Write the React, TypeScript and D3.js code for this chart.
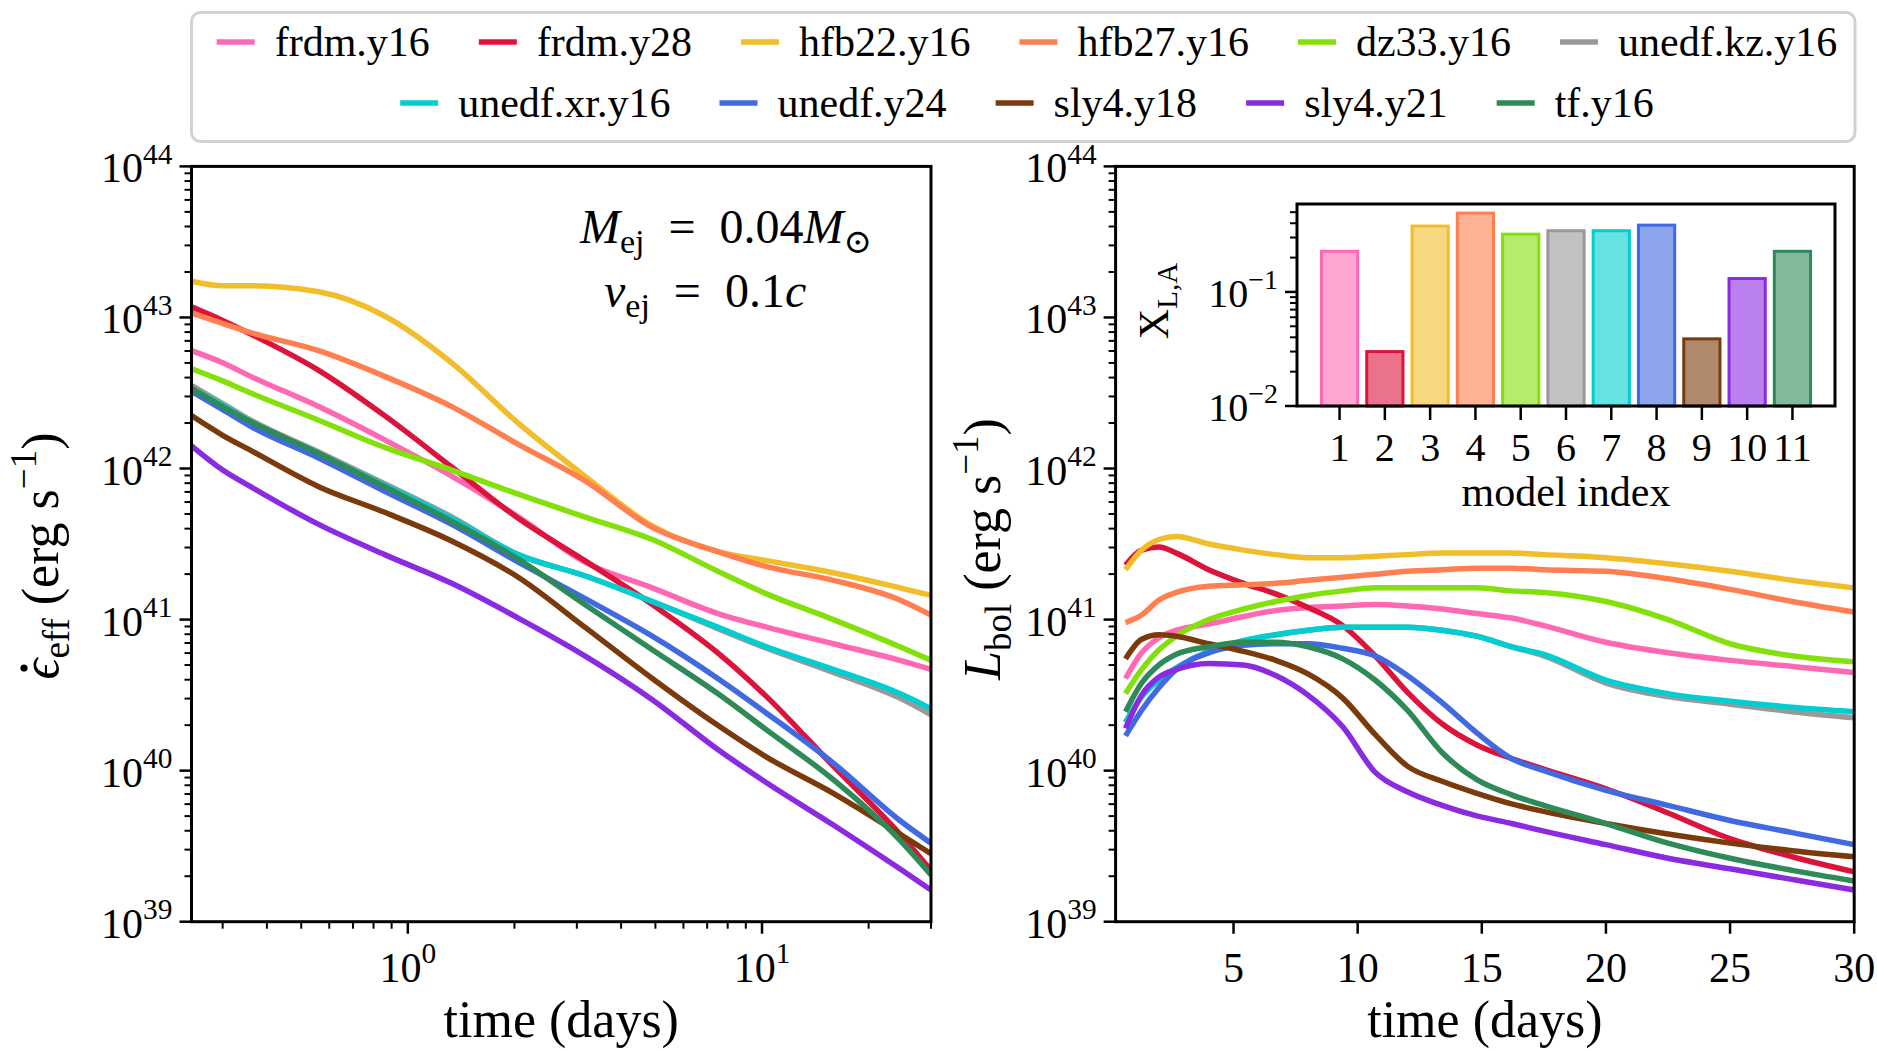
import React, { useMemo } from "react";
import * as d3 from "d3";

// model names, order = legend order = bar index 1..11
const models = [
  "frdm.y16", "frdm.y28", "hfb22.y16", "hfb27.y16", "dz33.y16", "unedf.kz.y16",
  "unedf.xr.y16", "unedf.y24", "sly4.y18", "sly4.y21", "tf.y16",
];
const colors = [
  "#ff69b4", "#dc143c", "#f2bd2a", "#ff7f50", "#84e00a", "#999999",
  "#00ced1", "#4169e1", "#7b3a0c", "#8a2be2", "#2e8b57",
];

// left panel: effective heating rate, log10(erg/s) vs time (days)
const tEff = [0.245, 0.3, 0.36, 0.56, 0.86, 1.33, 2.05, 3.16, 4.9, 7.5, 10.3, 15.9, 24.5, 30];
const effFrdmY16 = [42.78, 42.7, 42.61, 42.41, 42.19, 41.95, 41.68, 41.38, 41.21, 41.04, 40.95, 40.84, 40.73, 40.67];
const effFrdmY28 = [43.07, 42.98, 42.89, 42.65, 42.35, 42.01, 41.67, 41.39, 41.1, 40.78, 40.49, 40.03, 39.58, 39.34];
const effHfb22 = [43.24, 43.21, 43.21, 43.17, 43.01, 42.7, 42.3, 41.95, 41.62, 41.45, 41.39, 41.31, 41.21, 41.16];
const effHfb27 = [43.03, 42.96, 42.9, 42.78, 42.61, 42.41, 42.16, 41.92, 41.61, 41.45, 41.35, 41.26, 41.13, 41.03];
const effDz33 = [42.66, 42.58, 42.5, 42.32, 42.14, 41.99, 41.83, 41.68, 41.53, 41.32, 41.17, 41.0, 40.82, 40.73];
const effUnedfKz = [42.55, 42.43, 42.32, 42.11, 41.9, 41.68, 41.43, 41.29, 41.12, 40.94, 40.81, 40.65, 40.48, 40.37];
const effUnedfXr = [42.53, 42.42, 42.31, 42.1, 41.89, 41.67, 41.43, 41.29, 41.12, 40.95, 40.82, 40.67, 40.51, 40.41];
const effUnedfY24 = [42.51, 42.39, 42.28, 42.07, 41.85, 41.63, 41.38, 41.14, 40.89, 40.61, 40.38, 40.05, 39.67, 39.52];
const effSly4Y18 = [42.35, 42.22, 42.12, 41.88, 41.71, 41.52, 41.28, 40.95, 40.61, 40.3, 40.09, 39.85, 39.58, 39.45];
const effSly4Y21 = [42.15, 41.99, 41.88, 41.63, 41.43, 41.24, 41.01, 40.76, 40.47, 40.14, 39.92, 39.64, 39.35, 39.21];
const effTfY16 = [42.53, 42.41, 42.31, 42.1, 41.88, 41.65, 41.4, 41.1, 40.8, 40.51, 40.27, 39.94, 39.54, 39.31];

// right panel: bolometric luminosity, log10(erg/s) vs time (days)
const tBol = [0.65, 1.3, 2, 2.7, 4, 5.4, 6.7, 8, 9.4, 10.7, 12, 13.4, 14.8, 16.2, 17.5, 20, 22.5, 25, 27.5, 30];
const bolFrdmY16 = [40.61, 40.78, 40.88, 40.93, 40.97, 41.02, 41.06, 41.08, 41.09, 41.1, 41.09, 41.07, 41.04, 41.01, 40.96, 40.85, 40.78, 40.73, 40.69, 40.65];
const bolFrdmY28 = [41.36, 41.46, 41.48, 41.44, 41.33, 41.24, 41.17, 41.08, 40.96, 40.76, 40.52, 40.31, 40.17, 40.08, 40.01, 39.88, 39.72, 39.55, 39.43, 39.33];
const bolHfb22 = [41.33, 41.46, 41.53, 41.55, 41.5, 41.46, 41.43, 41.41, 41.41, 41.42, 41.43, 41.44, 41.44, 41.44, 41.43, 41.41, 41.37, 41.32, 41.26, 41.21];
const bolHfb27 = [40.98, 41.03, 41.13, 41.18, 41.22, 41.23, 41.24, 41.26, 41.28, 41.3, 41.32, 41.33, 41.34, 41.34, 41.33, 41.32, 41.27, 41.2, 41.12, 41.05];
const bolDz33 = [40.51, 40.67, 40.8, 40.89, 41.0, 41.07, 41.12, 41.16, 41.19, 41.21, 41.21, 41.21, 41.21, 41.19, 41.18, 41.12, 41.0, 40.84, 40.76, 40.72];
const bolUnedfKz = [40.32, 40.49, 40.6, 40.68, 40.79, 40.86, 40.9, 40.93, 40.95, 40.95, 40.95, 40.93, 40.89, 40.82, 40.76, 40.58, 40.49, 40.44, 40.39, 40.35];
const bolUnedfXr = [40.32, 40.49, 40.6, 40.68, 40.79, 40.86, 40.9, 40.93, 40.95, 40.95, 40.95, 40.93, 40.89, 40.82, 40.77, 40.6, 40.51, 40.46, 40.42, 40.39];
const bolUnedfY24 = [40.23, 40.4, 40.55, 40.67, 40.78, 40.83, 40.84, 40.84, 40.81, 40.76, 40.63, 40.45, 40.25, 40.08, 40.0, 39.87, 39.77, 39.67, 39.59, 39.51];
const bolSly4Y18 = [40.74, 40.87, 40.9, 40.89, 40.84, 40.79, 40.73, 40.64, 40.48, 40.24, 40.03, 39.93, 39.85, 39.78, 39.73, 39.65, 39.58, 39.52, 39.47, 39.43];
const bolSly4Y21 = [40.28, 40.5, 40.62, 40.67, 40.71, 40.7, 40.63, 40.5, 40.29, 39.99, 39.86, 39.77, 39.7, 39.65, 39.6, 39.51, 39.42, 39.35, 39.28, 39.21];
const bolTfY16 = [40.39, 40.58, 40.7, 40.77, 40.82, 40.85, 40.85, 40.82, 40.74, 40.6, 40.4, 40.12, 39.94, 39.84, 39.77, 39.65, 39.52, 39.42, 39.34, 39.27];

// inset: X_{L,A} per model index
const modelIndex = [1, 2, 3, 4, 5, 6, 7, 8, 9, 10, 11];
const xla = [0.227, 0.03, 0.378, 0.491, 0.321, 0.344, 0.344, 0.385, 0.0388, 0.131, 0.227];

const effSeries = [effFrdmY16, effFrdmY28, effHfb22, effHfb27, effDz33, effUnedfKz, effUnedfXr, effUnedfY24, effSly4Y18, effSly4Y21, effTfY16];
const bolSeries = [bolFrdmY16, bolFrdmY28, bolHfb22, bolHfb27, bolDz33, bolUnedfKz, bolUnedfXr, bolUnedfY24, bolSly4Y18, bolSly4Y21, bolTfY16];

const W = 1877;
const H = 1051;
const FONT = "'Liberation Serif', 'DejaVu Serif', serif";
const leftBox = { x0: 191.5, x1: 931, y0: 166.4, y1: 921.7 };
const rightBox = { x0: 1115.6, x1: 1854.2, y0: 166.4, y1: 921.7 };
const insetBox = { x0: 1297, x1: 1835, y0: 204, y1: 406 };

const MAJOR = 12;
const MINOR = 7;
const LW = 5.5;
const TICK_FS = 42;

let ctx: CanvasRenderingContext2D | null = null;
function textWidth(s: string, size: number, italic = false) {
  if (!ctx) ctx = document.createElement("canvas").getContext("2d");
  if (!ctx) return s.length * size * 0.5;
  ctx.font = `${italic ? "italic " : ""}${size}px ${FONT}`;
  return ctx.measureText(s).width;
}

const sup = (e: number) => (e < 0 ? "\u2212" + Math.abs(e) : String(e));

const Pow10 = ({ x, y, exp, anchor, size = TICK_FS }: any) => (
  <text x={x} y={y} textAnchor={anchor} fontSize={size} fontFamily={FONT}>
    10<tspan dy={-size * 0.45} fontSize={size * 0.7}>{sup(exp)}</tspan>
  </text>
);

const isDecade = (v: number) => Math.abs(Math.log10(v) - Math.round(Math.log10(v))) < 1e-6;

function LogYAxis({ scale, box, size = TICK_FS }: any) {
  const ticks: number[] = scale.ticks();
  return (
    <g>
      {ticks.map((v, i) => {
        const major = isDecade(v);
        const y = scale(v);
        return (
          <g key={i}>
            <line x1={box.x0 - (major ? MAJOR : MINOR)} x2={box.x0} y1={y} y2={y} stroke="#000" strokeWidth={major ? 2.5 : 2} />
            {major && <Pow10 x={box.x0 - MAJOR - 7} y={y + 16} exp={Math.round(Math.log10(v))} anchor="end" size={size} />}
          </g>
        );
      })}
    </g>
  );
}

// rotated y label: italic symbol with subscript, then " (erg s^-1)"
function YLabel({ x, y, sym, sub, dot }: any) {
  const fs = 52;
  const fss = 37;
  const wSym = textWidth(sym, fs, true);
  const total = wSym + textWidth(sub, fss) + textWidth(" (erg s", fs) + textWidth("\u22121", fss) + textWidth(")", fs);
  const start = -total / 2;
  return (
    <g transform={`translate(${x},${y}) rotate(-90)`}>
      <text x={start} y={0} fontSize={fs} fontFamily={FONT}>
        <tspan fontStyle="italic">{sym}</tspan>
        <tspan dy={11} fontSize={fss}>{sub}</tspan>
        <tspan dy={-11}> (erg s</tspan>
        <tspan dy={-22} fontSize={fss}>{"\u22121"}</tspan>
        <tspan dy={22}>)</tspan>
      </text>
      {dot && <circle cx={start + wSym * 0.55} cy={-34} r={3.6} fill="#000" />}
    </g>
  );
}

function EffPanel() {
  const x = d3.scaleLog().domain([0.245, 30]).range([leftBox.x0, leftBox.x1]);
  const y = d3.scaleLog().domain([1e39, 1e44]).range([leftBox.y1, leftBox.y0]);
  const line = d3
    .line<number>()
    .x((_, i) => x(tEff[i]))
    .y((d) => y(Math.pow(10, d)))
    .curve(d3.curveMonotoneX);
  const xt: number[] = x.ticks();
  const cx = (leftBox.x0 + leftBox.x1) / 2;
  const cy = (leftBox.y0 + leftBox.y1) / 2;
  return (
    <g>
      <defs>
        <clipPath id="clipL">
          <rect x={leftBox.x0} y={leftBox.y0} width={leftBox.x1 - leftBox.x0} height={leftBox.y1 - leftBox.y0} />
        </clipPath>
      </defs>
      <g clipPath="url(#clipL)">
        {effSeries.map((s, i) => (
          <path key={i} d={line(s) || ""} fill="none" stroke={colors[i]} strokeWidth={LW} strokeLinejoin="round" />
        ))}
      </g>
      <rect x={leftBox.x0} y={leftBox.y0} width={leftBox.x1 - leftBox.x0} height={leftBox.y1 - leftBox.y0} fill="none" stroke="#000" strokeWidth={3} />
      <LogYAxis scale={y} box={leftBox} />
      {xt.map((v, i) => {
        const major = isDecade(v);
        const px = x(v);
        return (
          <g key={i}>
            <line x1={px} x2={px} y1={leftBox.y1} y2={leftBox.y1 + (major ? MAJOR : MINOR)} stroke="#000" strokeWidth={major ? 2.5 : 2} />
            {major && <Pow10 x={px} y={leftBox.y1 + 60} exp={Math.round(Math.log10(v))} anchor="middle" />}
          </g>
        );
      })}
      <text x={cx} y={1037} textAnchor="middle" fontSize={52} fontFamily={FONT}>time (days)</text>
      <YLabel x={58} y={cy + 12} sym={"\u03F5"} sub="eff" dot />
      <text x={580} y={243} fontSize={48} fontFamily={FONT}>
        <tspan fontStyle="italic">M</tspan>
        <tspan dy={10} fontSize={34}>ej</tspan>
        <tspan dy={-10}>{"\u2002=\u20020.04"}</tspan>
        <tspan fontStyle="italic">M</tspan>
        <tspan dy={10} fontSize={34}>{"\u2299"}</tspan>
      </text>
      <text x={604} y={307} fontSize={48} fontFamily={FONT}>
        <tspan fontStyle="italic">v</tspan>
        <tspan dy={10} fontSize={34}>ej</tspan>
        <tspan dy={-10}>{"\u2002=\u20020.1"}</tspan>
        <tspan fontStyle="italic">c</tspan>
      </text>
    </g>
  );
}

function Inset() {
  const x = d3.scaleLinear().domain([0.06, 11.94]).range([insetBox.x0, insetBox.x1]);
  const y = d3.scaleLog().domain([0.01, 0.59]).range([insetBox.y1, insetBox.y0]);
  const yt: number[] = y.ticks();
  const bw = x(0.8) - x(0);
  return (
    <g>
      <rect x={insetBox.x0} y={insetBox.y0} width={insetBox.x1 - insetBox.x0} height={insetBox.y1 - insetBox.y0} fill="#fff" />
      {xla.map((v, i) => (
        <rect
          key={i}
          x={x(modelIndex[i]) - bw / 2}
          y={y(v)}
          width={bw}
          height={y(0.01) - y(v)}
          fill={colors[i]}
          fillOpacity={0.6}
          stroke={colors[i]}
          strokeWidth={3}
        />
      ))}
      <rect x={insetBox.x0} y={insetBox.y0} width={insetBox.x1 - insetBox.x0} height={insetBox.y1 - insetBox.y0} fill="none" stroke="#000" strokeWidth={3} />
      {yt.map((v, i) => {
        const major = isDecade(v);
        const py = y(v);
        return (
          <g key={i}>
            <line x1={insetBox.x0 - (major ? MAJOR : MINOR)} x2={insetBox.x0} y1={py} y2={py} stroke="#000" strokeWidth={major ? 2.5 : 2} />
            {major && <Pow10 x={insetBox.x0 - MAJOR - 7} y={py + 15} exp={Math.round(Math.log10(v))} anchor="end" size={40} />}
          </g>
        );
      })}
      {modelIndex.map((m, i) => (
        <g key={i}>
          <line x1={x(m)} x2={x(m)} y1={insetBox.y1} y2={insetBox.y1 + MAJOR + 2} stroke="#000" strokeWidth={2.5} />
          <text x={x(m)} y={461} textAnchor="middle" fontSize={40} fontFamily={FONT}>{m}</text>
        </g>
      ))}
      <text x={(insetBox.x0 + insetBox.x1) / 2} y={506} textAnchor="middle" fontSize={42} fontFamily={FONT}>model index</text>
      <text transform={`translate(1168,${(insetBox.y0 + insetBox.y1) / 2 - 4}) rotate(-90)`} textAnchor="middle" fontSize={42} fontFamily={FONT}>
        X<tspan dy={9} fontSize={29}>L,A</tspan>
      </text>
    </g>
  );
}

function BolPanel() {
  const x = d3.scaleLinear().domain([0.25, 30]).range([rightBox.x0, rightBox.x1]);
  const y = d3.scaleLog().domain([1e39, 1e44]).range([rightBox.y1, rightBox.y0]);
  const line = d3
    .line<number>()
    .x((_, i) => x(tBol[i]))
    .y((d) => y(Math.pow(10, d)))
    .curve(d3.curveMonotoneX);
  const xt = [5, 10, 15, 20, 25, 30];
  const cx = (rightBox.x0 + rightBox.x1) / 2;
  const cy = (rightBox.y0 + rightBox.y1) / 2;
  return (
    <g>
      <defs>
        <clipPath id="clipR">
          <rect x={rightBox.x0} y={rightBox.y0} width={rightBox.x1 - rightBox.x0} height={rightBox.y1 - rightBox.y0} />
        </clipPath>
      </defs>
      <g clipPath="url(#clipR)">
        {bolSeries.map((s, i) => (
          <path key={i} d={line(s) || ""} fill="none" stroke={colors[i]} strokeWidth={LW} strokeLinejoin="round" />
        ))}
      </g>
      <rect x={rightBox.x0} y={rightBox.y0} width={rightBox.x1 - rightBox.x0} height={rightBox.y1 - rightBox.y0} fill="none" stroke="#000" strokeWidth={3} />
      <LogYAxis scale={y} box={rightBox} />
      {xt.map((v, i) => (
        <g key={i}>
          <line x1={x(v)} x2={x(v)} y1={rightBox.y1} y2={rightBox.y1 + MAJOR} stroke="#000" strokeWidth={2.5} />
          <text x={x(v)} y={rightBox.y1 + 60} textAnchor="middle" fontSize={TICK_FS} fontFamily={FONT}>{v}</text>
        </g>
      ))}
      <text x={cx} y={1037} textAnchor="middle" fontSize={52} fontFamily={FONT}>time (days)</text>
      <YLabel x={1000} y={cy + 5} sym="L" sub="bol" />
      <Inset />
    </g>
  );
}

function Legend() {
  const size = 42;
  const handle = 38;
  const gap = 20;
  const colGap = 49;
  const rows = [
    { idx: [0, 1, 2, 3, 4, 5], y: 42 },
    { idx: [6, 7, 8, 9, 10], y: 103 },
  ];
  const widths = useMemo(() => models.map((m) => textWidth(m, size)), []);
  const cx = 1027;
  return (
    <g>
      <rect x={191.5} y={12.5} width={1663.5} height={129} rx={9} fill="#fff" stroke="#d2d2d2" strokeWidth={3} />
      {rows.map((r, ri) => {
        const total = r.idx.reduce((s, k) => s + handle + gap + widths[k], 0) + colGap * (r.idx.length - 1);
        let xx = cx - total / 2;
        return (
          <g key={ri}>
            {r.idx.map((k) => {
              const x0 = xx;
              xx += handle + gap + widths[k] + colGap;
              return (
                <g key={k}>
                  <line x1={x0} x2={x0 + handle} y1={r.y} y2={r.y} stroke={colors[k]} strokeWidth={LW} />
                  <text x={x0 + handle + gap} y={r.y + 14} fontSize={size} fontFamily={FONT}>{models[k]}</text>
                </g>
              );
            })}
          </g>
        );
      })}
    </g>
  );
}

export default function App() {
  return (
    <svg width={W} height={H} style={{ position: "absolute", left: 0, top: 0, background: "#fff" }}>
      <rect width={W} height={H} fill="#fff" />
      <EffPanel />
      <BolPanel />
      <Legend />
    </svg>
  );
}
